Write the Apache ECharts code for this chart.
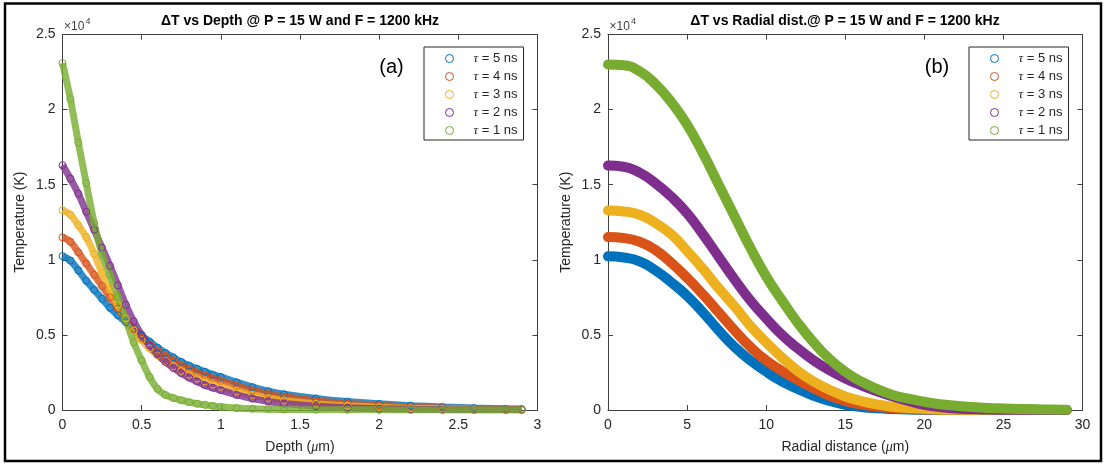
<!DOCTYPE html>
<html>
<head>
<meta charset="utf-8">
<title>ΔT vs Depth / Radial distance</title>
<script src="https://cdn.jsdelivr.net/npm/echarts@6/dist/echarts.min.js"></script>
<style>
  html, body { margin: 0; padding: 0; background: #fff; }
  #chart { width: 1107px; height: 466px; }
</style>
</head>
<body>
<div id="chart"></div>
<script>
// legend names and matlab default colours
const pulseNames = ['τ = 5 ns', 'τ = 4 ns', 'τ = 3 ns', 'τ = 2 ns', 'τ = 1 ns']
const colors = ['#0072BD', '#D95319', '#EDB120', '#7E2F8E', '#77AC30']

// (a) depth in um, temperature in x10^4 K
const depth = [0, 0.05, 0.1, 0.15, 0.2, 0.25, 0.3, 0.35, 0.4, 0.45, 0.5, 0.55, 0.6, 0.65, 0.7, 0.75, 0.8, 0.85, 0.9, 0.95, 1.0,
  1.1, 1.2, 1.3, 1.4, 1.6, 1.8, 2.0, 2.2, 2.4, 2.6, 2.8, 2.9]
const depthT5 = [1.025, 0.995, 0.93, 0.86, 0.8, 0.74, 0.68, 0.63, 0.585, 0.54, 0.495, 0.455, 0.415, 0.38, 0.35, 0.32, 0.295, 0.275, 0.255, 0.235, 0.22,
  0.185, 0.152, 0.125, 0.105, 0.077, 0.056, 0.041, 0.029, 0.02, 0.013, 0.008, 0.006]
const depthT4 = [1.15, 1.12, 1.05, 0.975, 0.9, 0.825, 0.75, 0.675, 0.6, 0.535, 0.48, 0.435, 0.395, 0.36, 0.33, 0.3, 0.275, 0.25, 0.23, 0.21, 0.195,
  0.16, 0.13, 0.107, 0.088, 0.062, 0.043, 0.03, 0.02, 0.013, 0.008, 0.005, 0.004]
const depthT3 = [1.33, 1.3, 1.23, 1.15, 1.04, 0.91, 0.8, 0.7, 0.61, 0.53, 0.465, 0.41, 0.365, 0.325, 0.29, 0.26, 0.235, 0.21, 0.19, 0.17, 0.155,
  0.125, 0.1, 0.08, 0.064, 0.042, 0.028, 0.018, 0.012, 0.008, 0.005, 0.003, 0.002]
const depthT2 = [1.63, 1.54, 1.44, 1.32, 1.2, 1.08, 0.96, 0.83, 0.7, 0.59, 0.5, 0.43, 0.37, 0.32, 0.28, 0.245, 0.215, 0.19, 0.165, 0.148, 0.132,
  0.1, 0.076, 0.057, 0.043, 0.025, 0.015, 0.009, 0.005, 0.003, 0.002, 0.001, 0.001]
const depthT1 = [2.31, 2.07, 1.78, 1.51, 1.245, 1.035, 0.9, 0.75, 0.6, 0.45, 0.33, 0.22, 0.14, 0.1, 0.08, 0.065, 0.052, 0.042, 0.034, 0.027, 0.021,
  0.013, 0.008, 0.005, 0.003, 0.002, 0.001, 0.001, 0, 0, 0, 0, 0]

// (b) radial distance in um, temperature in x10^4 K
const radial = [0, 1, 2, 3, 4, 5, 6, 7, 8, 9, 10, 11, 12, 13, 14, 15, 16, 17, 18, 19, 20, 21, 22, 23, 24, 25, 26, 27, 28, 29]
const radialT5 = [1.023, 1.015, 0.99, 0.93, 0.85, 0.76, 0.65, 0.53, 0.42, 0.33, 0.255, 0.19, 0.14, 0.095, 0.06,
  0.035, 0.02, 0.011, 0.006, 0.003, 0.002, 0.001, 0, 0, 0, 0, 0, 0, 0, 0]
const radialT4 = [1.151, 1.145, 1.12, 1.065, 0.98, 0.88, 0.77, 0.65, 0.53, 0.42, 0.33, 0.26, 0.2, 0.145, 0.095,
  0.06, 0.038, 0.022, 0.013, 0.007, 0.004, 0.002, 0.001, 0, 0, 0, 0, 0, 0, 0]
const radialT3 = [1.328, 1.322, 1.3, 1.245, 1.17, 1.06, 0.94, 0.81, 0.69, 0.56, 0.45, 0.35, 0.26, 0.19, 0.135,
  0.09, 0.06, 0.037, 0.022, 0.013, 0.008, 0.004, 0.002, 0.001, 0, 0, 0, 0, 0, 0]
const radialT2 = [1.627, 1.62, 1.58, 1.51, 1.42, 1.31, 1.17, 1.02, 0.87, 0.73, 0.61, 0.5, 0.41, 0.33, 0.265,
  0.21, 0.165, 0.125, 0.09, 0.06, 0.035, 0.02, 0.01, 0.006, 0.003, 0.002, 0.001, 0.001, 0, 0]
const radialT1 = [2.3, 2.295, 2.255, 2.17, 2.05, 1.9, 1.71, 1.5, 1.29, 1.08, 0.89, 0.73, 0.58, 0.45, 0.34,
  0.255, 0.19, 0.14, 0.1, 0.075, 0.055, 0.038, 0.028, 0.02, 0.014, 0.01, 0.007, 0.005, 0.003, 0.002]

const depthSets = [depthT5, depthT4, depthT3, depthT2, depthT1]
const radialSets = [radialT5, radialT4, radialT3, radialT2, radialT1]

const FONT = '"Liberation Sans", Arial, sans-serif'
const AXIS = '#404040'
const TXT = '#262626'

const zip = (xs, ys) => xs.map((x, i) => [x, ys[i]])

// one axis of the matlab style box, labels only on bottom / left
const makeX = (gridIndex, position, max, interval, name) => ({
  type: 'value', gridIndex, position, min: 0, max, interval,
  axisLine: { show: true, onZero: false, lineStyle: { color: AXIS, width: 1 } },
  axisTick: { show: true, inside: true, length: 5, lineStyle: { color: AXIS } },
  axisLabel: { show: position === 'bottom', color: TXT, fontSize: 14, fontFamily: FONT, margin: 8 },
  splitLine: { show: false },
  name: position === 'bottom' ? name : '',
  nameLocation: 'middle',
  nameGap: 30,
  nameTextStyle: {
    color: TXT, fontSize: 14, fontFamily: FONT,
    rich: { i: { fontStyle: 'italic', fontFamily: '"Liberation Serif", serif', fontSize: 14, color: TXT } }
  }
})
const makeY = (gridIndex, position) => ({
  type: 'value', gridIndex, position, min: 0, max: 2.5, interval: 0.5,
  axisLine: { show: true, onZero: false, lineStyle: { color: AXIS, width: 1 } },
  axisTick: { show: true, inside: true, length: 5, lineStyle: { color: AXIS } },
  axisLabel: { show: position === 'left', color: TXT, fontSize: 14, fontFamily: FONT, margin: 7 },
  splitLine: { show: false },
  name: position === 'left' ? 'Temperature (K)' : '',
  nameLocation: 'middle',
  nameGap: 35,
  nameTextStyle: { color: TXT, fontSize: 14, fontFamily: FONT }
})

const makeLegend = (left) => ({
  left, top: 47, orient: 'vertical',
  itemWidth: 8, itemHeight: 8, itemGap: 5,
  padding: [5, 6, 3, 21],
  borderColor: TXT, borderWidth: 1, backgroundColor: '#fff',
  selectedMode: false,
  data: pulseNames.map(n => ({ name: n, icon: 'circle' })),
  itemStyle: { color: '#fff', borderColor: 'inherit', borderWidth: 1 },
  formatter: n => '{i|τ}' + n.slice(1),
  textStyle: {
    fontSize: 13, lineHeight: 13, color: TXT, fontFamily: FONT, padding: [0, 0, 0, 15],
    rich: { i: { fontStyle: 'italic', fontFamily: '"Liberation Serif", serif', fontSize: 13, lineHeight: 13, color: TXT } }
  }
})

const series = []
pulseNames.forEach((name, i) => {
  const c = colors[i]
  series.push({
    type: 'line', name, xAxisIndex: 0, yAxisIndex: 0,
    data: zip(depth, depthSets[i]),
    smooth: 0.35,
    symbol: 'circle', symbolSize: 7, showSymbol: true,
    color: c,
    itemStyle: { color: 'rgba(255,255,255,0)', borderColor: c, borderWidth: 1 },
    lineStyle: { color: c, width: 7, opacity: 0.8 },
    emphasis: { disabled: true }
  })
})
pulseNames.forEach((name, i) => {
  const c = colors[i]
  series.push({
    type: 'line', name, xAxisIndex: 2, yAxisIndex: 2,
    data: zip(radial, radialSets[i]),
    smooth: 0.5,
    symbol: 'none',
    color: c,
    lineStyle: { color: c, width: 10, cap: 'round', join: 'round' },
    emphasis: { disabled: true }
  })
})

const option = {
  animation: false,
  backgroundColor: '#fff',
  textStyle: { fontFamily: FONT },
  title: [
    { text: 'ΔT vs Depth @ P = 15 W and F = 1200 kHz', left: 300, top: 14, padding: 0, textAlign: 'center',
      textStyle: { fontSize: 14, fontWeight: 'bold', color: '#000', fontFamily: FONT } },
    { text: 'ΔT vs Radial dist.@ P = 15 W and F = 1200 kHz', left: 845, top: 14, padding: 0, textAlign: 'center',
      textStyle: { fontSize: 14, fontWeight: 'bold', color: '#000', fontFamily: FONT } }
  ],
  legend: [makeLegend(424), makeLegend(969)],
  grid: [
    { left: 62.5, right: 569.5, top: 34.5, bottom: 56 },
    { left: 608, right: 24.5, top: 34.5, bottom: 56 }
  ],
  xAxis: [
    makeX(0, 'bottom', 3, 0.5, 'Depth ({i|μ}m)'),
    makeX(0, 'top', 3, 0.5, ''),
    makeX(1, 'bottom', 30, 5, 'Radial distance ({i|μ}m)'),
    makeX(1, 'top', 30, 5, '')
  ],
  yAxis: [makeY(0, 'left'), makeY(0, 'right'), makeY(1, 'left'), makeY(1, 'right')],
  series,
  graphic: [
    { type: 'rect', silent: true, shape: { x: 5, y: 3.5, width: 1096, height: 457.5 },
      style: { fill: 'none', stroke: '#000', lineWidth: 2.5 } },
    { type: 'text', x: 64, y: 33, silent: true, style: { text: '×10', fontSize: 12, fontFamily: FONT, fill: AXIS, verticalAlign: 'bottom' } },
    { type: 'text', x: 85.5, y: 17, silent: true, style: { text: '4', fontSize: 9, fontFamily: FONT, fill: AXIS } },
    { type: 'text', x: 609.5, y: 33, silent: true, style: { text: '×10', fontSize: 12, fontFamily: FONT, fill: AXIS, verticalAlign: 'bottom' } },
    { type: 'text', x: 631, y: 17, silent: true, style: { text: '4', fontSize: 9, fontFamily: FONT, fill: AXIS } },
    { type: 'text', x: 391.5, y: 67.5, silent: true, style: { text: '(a)', fontSize: 20, fontFamily: FONT, fill: '#000', align: 'center', verticalAlign: 'middle' } },
    { type: 'text', x: 937, y: 67.5, silent: true, style: { text: '(b)', fontSize: 20, fontFamily: FONT, fill: '#000', align: 'center', verticalAlign: 'middle' } }
  ]
}

// x axes 0,1 belong to grid 0 and 2,3 to grid 1; same for y
const chart = echarts.init(document.getElementById('chart'))
chart.setOption(option)
</script>
</body>
</html>
